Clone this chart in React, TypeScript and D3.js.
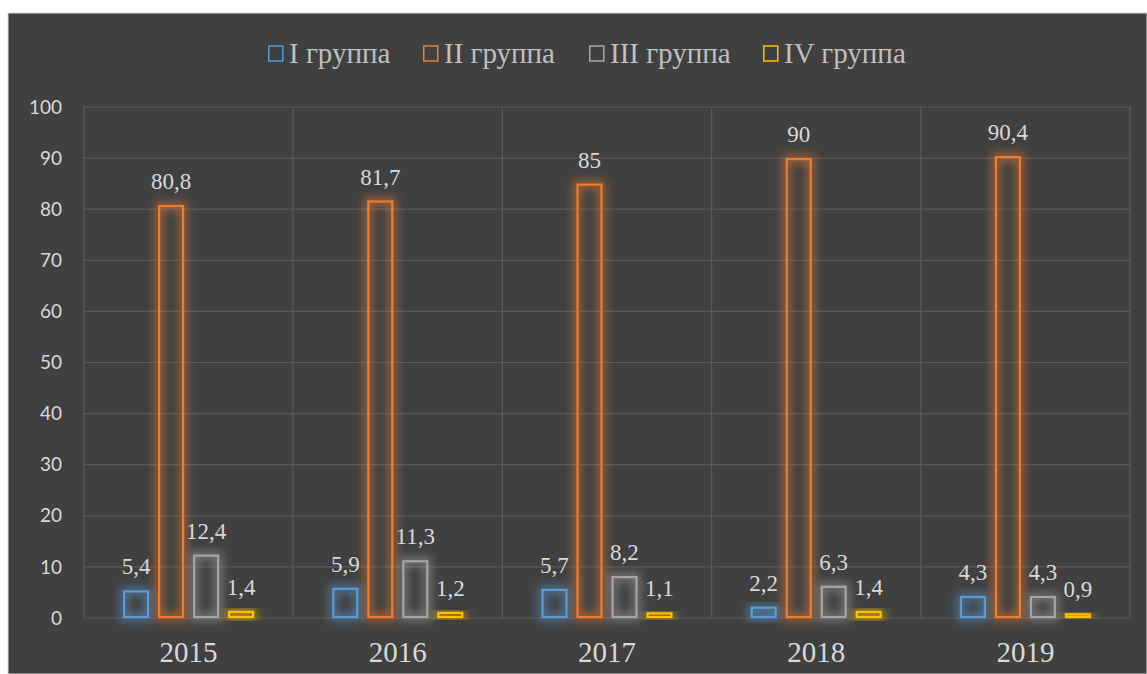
import React from "react";
import * as d3 from "d3";

const years = ["2015", "2016", "2017", "2018", "2019"];
const seriesNames = ["I группа", "II группа", "III группа", "IV группа"];
const group1 = [5.4, 5.9, 5.7, 2.2, 4.3];
const group2 = [80.8, 81.7, 85, 90, 90.4];
const group3 = [12.4, 11.3, 8.2, 6.3, 4.3];
const group4 = [1.4, 1.2, 1.1, 1.4, 0.9];
const seriesColors = ["#5b9bd5", "#ed7d31", "#a5a5a5", "#ffc000"];
const yTicks = [0, 10, 20, 30, 40, 50, 60, 70, 80, 90, 100];

const W = 1147;
const H = 674;
const left = 84;
const right = 1130;
const top = 107;
const bottom = 618;
const SERIF = "Liberation Serif, Times New Roman, serif";

export default function App() {
  const series = [group1, group2, group3, group4];
  const x0 = d3.scaleBand<string>().domain(years).range([left, right]).padding(0);
  const step = x0.bandwidth();
  const inner = 140;
  const x1 = d3
    .scaleBand<string>()
    .domain(seriesNames)
    .range([(step - inner) / 2, (step + inner) / 2])
    .paddingInner(0.26)
    .paddingOuter(0.13);
  const y = d3.scaleLinear().domain([0, 100]).range([bottom, top]);
  const fmt = (v: number) => String(v).replace(".", ",");

  const legendX = [268, 423, 589, 763];

  return (
    <svg
      width={W}
      height={H}
      style={{ position: "absolute", left: 0, top: 0, display: "block" }}
    >
      <defs>
        {seriesColors.map((c, i) => (
          <filter key={i} id={`glow${i}`} x="-60%" y="-60%" width="220%" height="220%">
            <feMorphology in="SourceGraphic" operator="dilate" radius="3" result="d" />
            <feGaussianBlur in="d" stdDeviation="5" result="b" />
            <feComponentTransfer in="b" result="b2">
              <feFuncA type="linear" slope="0.55" />
            </feComponentTransfer>
            <feMerge>
              <feMergeNode in="b2" />
              <feMergeNode in="SourceGraphic" />
            </feMerge>
          </filter>
        ))}
      </defs>
      <rect x={0} y={0} width={W} height={H} fill="#ffffff" />
      <rect x={8} y={13} width={W - 8} height={H - 13} fill="#404040" stroke="#d9d9d9" strokeWidth={1} />

      {/* grid */}
      {yTicks.map((t) => (
        <line key={t} x1={left} x2={right} y1={y(t)} y2={y(t)} stroke="#595959" strokeWidth={1.2} />
      ))}
      {years.map((yr) => (
        <line key={yr} x1={x0(yr)!} x2={x0(yr)!} y1={top} y2={bottom} stroke="#595959" strokeWidth={1.2} />
      ))}
      <line x1={right} x2={right} y1={top} y2={bottom} stroke="#595959" strokeWidth={1.2} />

      {/* y labels */}
      {yTicks.map((t) => (
        <text
          key={t}
          x={62}
          y={y(t)}
          dy="0.35em"
          textAnchor="end"
          style={{ fontFamily: "Lato, Open Sans, sans-serif", fontSize: 19 }}
          fill="#d9d9d9"
        >
          {t}
        </text>
      ))}

      {/* bars */}
      {years.map((yr, j) => (
        <g key={yr} transform={`translate(${x0(yr)},0)`}>
          {series.map((vals, i) => {
            const bx = x1(seriesNames[i])!;
            const bw = x1.bandwidth();
            const by = y(vals[j]);
            const bh = bottom - by;
            return (
              <g key={i}>
                <rect
                  x={bx + 1}
                  y={by + 1}
                  width={bw - 2}
                  height={Math.max(bh - 2, 0)}
                  fill="none"
                  stroke={seriesColors[i]}
                  strokeWidth={2.2}
                  filter={`url(#glow${i})`}
                />
                <text
                  x={bx + bw / 2}
                  y={by - 16}
                  textAnchor="middle"
                  style={{ fontFamily: SERIF, fontSize: 23 }}
                  fill="#d9d9d9"
                >
                  {fmt(vals[j])}
                </text>
              </g>
            );
          })}
          <text
            x={step / 2}
            y={662}
            textAnchor="middle"
            style={{ fontFamily: SERIF, fontSize: 29 }}
            fill="#d9d9d9"
          >
            {yr}
          </text>
        </g>
      ))}

      {/* legend */}
      {seriesNames.map((n, i) => (
        <g key={n} transform={`translate(${legendX[i]},0)`}>
          <rect x={0.75} y={46} width={14} height={15} fill="none" stroke={seriesColors[i]} strokeWidth={1.5} />
          <text x={21} y={63} style={{ fontFamily: SERIF, fontSize: 29 }} fill="#bfbfbf">
            {n}
          </text>
        </g>
      ))}
    </svg>
  );
}
